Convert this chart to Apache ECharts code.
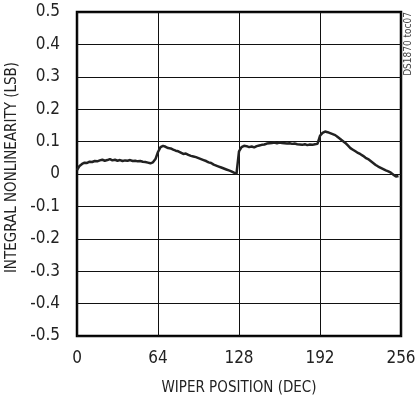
<!DOCTYPE html>
<html>
<head>
<meta charset="utf-8">
<script src="https://cdn.jsdelivr.net/npm/echarts@6/dist/echarts.min.js"></script>
<style>
  html, body { margin: 0; padding: 0; background: #fff; }
  #chart { width: 415px; height: 397px; }
</style>
</head>
<body>
<div id="chart"></div>
<script>
// INL, one sample every 2 wiper codes starting at 0
const CODE_STEP = 2
const inl = [
  0.012, 0.025, 0.031, 0.035, 0.034, 0.038, 0.037, 0.040, 0.039, 0.042,
  0.044, 0.041, 0.043, 0.046, 0.042, 0.044, 0.041, 0.043, 0.040, 0.042,
  0.041, 0.043, 0.040, 0.041, 0.039, 0.040, 0.038, 0.037, 0.035, 0.033,
  0.036, 0.046, 0.068, 0.083, 0.087, 0.084, 0.080, 0.079, 0.075, 0.072,
  0.070, 0.066, 0.062, 0.063, 0.059, 0.056, 0.054, 0.052, 0.049, 0.046,
  0.043, 0.040, 0.036, 0.034, 0.029, 0.026, 0.023, 0.020, 0.017, 0.014,
  0.011, 0.008, 0.004, 0.000, 0.070, 0.083, 0.087, 0.086, 0.083, 0.085,
  0.082, 0.086, 0.088, 0.090, 0.091, 0.094, 0.095, 0.096, 0.097, 0.095,
  0.097, 0.096, 0.095, 0.094, 0.095, 0.093, 0.094, 0.092, 0.091, 0.090,
  0.092, 0.089, 0.091, 0.090, 0.092, 0.093, 0.118, 0.127, 0.131, 0.129,
  0.126, 0.123, 0.120, 0.114, 0.108, 0.102, 0.096, 0.088, 0.080, 0.075,
  0.070, 0.065, 0.061, 0.056, 0.050, 0.046, 0.040, 0.034, 0.028, 0.023,
  0.019, 0.015, 0.011, 0.008, 0.004, -0.002, -0.008, -0.006
]
const xTicks = [0, 64, 128, 192, 256]
const yRange = [-0.5, 0.5]

const font = '"Liberation Sans Narrow", "DejaVu Sans Condensed", Arial, sans-serif'

const chart = echarts.init(document.getElementById('chart'), null, { renderer: 'canvas' })

chart.setOption({
  animation: false,
  grid: {
    left: 77,
    right: 14,
    top: 12,
    bottom: 61,
    outerBoundsMode: 'none',
    show: true,
    borderColor: '#000',
    borderWidth: 2.5,
  },
  xAxis: {
    type: 'value',
    min: xTicks[0],
    max: xTicks[xTicks.length - 1],
    interval: 64,
    name: 'WIPER POSITION (DEC)',
    nameLocation: 'middle',
    nameGap: 45,
    nameTextStyle: { fontFamily: font, fontSize: 15, color: '#222' },
    axisLine: { show: false },
    axisTick: { show: false },
    axisLabel: { fontFamily: font, fontSize: 17, color: '#222', margin: 14 },
    splitLine: { lineStyle: { color: '#111', width: 1 } },
  },
  yAxis: {
    type: 'value',
    min: yRange[0],
    max: yRange[1],
    interval: 0.1,
    name: 'INTEGRAL NONLINEARITY (LSB)',
    nameLocation: 'middle',
    nameGap: 54,
    nameTextStyle: {
      fontFamily: font,
      fontSize: 15,
      color: '#222',
      padding: [0, 0, 0, 13],
    },
    axisLine: { show: false },
    axisTick: { show: false },
    axisLabel: {
      fontFamily: font,
      fontSize: 17,
      color: '#222',
      margin: 17,
      formatter: (v) => (Math.abs(v) < 1e-9 ? '0' : String(Math.round(v * 10) / 10)),
    },
    splitLine: { lineStyle: { color: '#111', width: 1 } },
  },
  graphic: [
    {
      type: 'text',
      right: 2,
      top: 12,
      rotation: Math.PI / 2,
      style: {
        text: 'DS1870 toc07',
        fontFamily: font,
        fontSize: 10,
        fill: '#444',
      },
    },
  ],
  series: [
    {
      type: 'line',
      showSymbol: false,
      data: inl.map((v, i) => [i * CODE_STEP, v]),
      lineStyle: { color: '#222', width: 2.5 },
    },
  ],
})
</script>
</body>
</html>
